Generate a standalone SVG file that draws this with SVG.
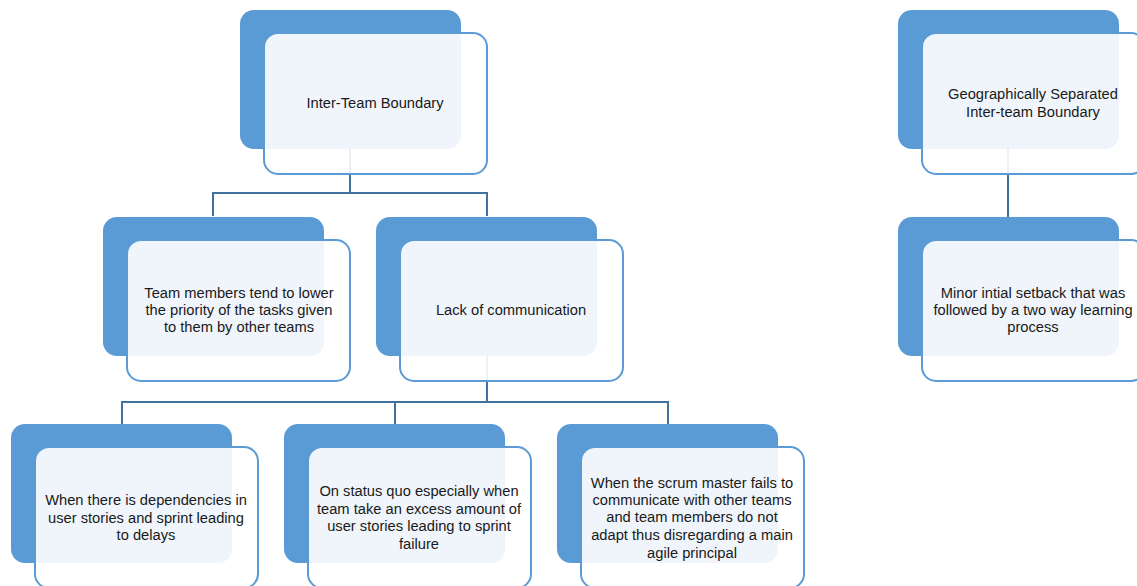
<svg xmlns="http://www.w3.org/2000/svg" width="1137" height="586" viewBox="0 0 1137 586">
<style>
.back{fill:#5B9BD5;}
.front{fill:#FFFFFF;fill-opacity:0.9;stroke:#5B9BD5;stroke-width:2;}
.conn{fill:none;stroke:#41719C;stroke-width:2;}
text{font-family:"Liberation Sans",Arial,sans-serif;font-size:14.7px;fill:#1a1a1a;text-anchor:middle;}
</style>
<rect width="1137" height="586" fill="#FFFFFF"/>
<g id="connectors">
<path class="conn" d="M350 149 V193 M213 216 V193 H487 V216"/>
<path class="conn" d="M487 356 V402 M122 424 V402 H668 V424 M395 402 V424"/>
<path class="conn" d="M1008 149 V217"/>
</g>
<g id="n-inter-team">
<rect class="back" x="240" y="10" width="221" height="139" rx="14"/>
<rect class="front" x="264" y="33" width="223" height="141" rx="14"/>
<text x="375" y="108">Inter-Team Boundary</text>
</g>
<g id="n-geo">
<rect class="back" x="898" y="10" width="221" height="139" rx="14"/>
<rect class="front" x="922" y="33" width="223" height="141" rx="14"/>
<text x="1033" y="99">Geographically Separated</text>
<text x="1033" y="117">Inter-team Boundary</text>
</g>
<g id="n-priority">
<rect class="back" x="103" y="217" width="221" height="139" rx="14"/>
<rect class="front" x="127" y="240" width="223" height="141" rx="14"/>
<text x="239" y="298">Team members tend to lower</text>
<text x="239" y="315">the priority of the tasks given</text>
<text x="239" y="332">to them by other teams</text>
</g>
<g id="n-lack">
<rect class="back" x="376" y="217" width="221" height="139" rx="14"/>
<rect class="front" x="400" y="240" width="223" height="141" rx="14"/>
<text x="511" y="315">Lack of communication</text>
</g>
<g id="n-minor">
<rect class="back" x="898" y="217" width="221" height="139" rx="14"/>
<rect class="front" x="922" y="240" width="223" height="141" rx="14"/>
<text x="1033" y="298">Minor intial setback that was</text>
<text x="1033" y="315">followed by a two way learning</text>
<text x="1033" y="332">process</text>
</g>
<g id="n-dependencies">
<rect class="back" x="11" y="424" width="221" height="139" rx="14"/>
<rect class="front" x="35" y="447" width="223" height="141" rx="14"/>
<text x="146" y="505">When there is dependencies in</text>
<text x="146" y="523">user stories and sprint leading</text>
<text x="146" y="540">to delays</text>
</g>
<g id="n-status-quo">
<rect class="back" x="284" y="424" width="221" height="139" rx="14"/>
<rect class="front" x="308" y="447" width="223" height="141" rx="14"/>
<text x="419" y="496">On status quo especially when</text>
<text x="419" y="514">team take an excess amount of</text>
<text x="419" y="531">user stories leading to sprint</text>
<text x="419" y="549">failure</text>
</g>
<g id="n-scrum-master">
<rect class="back" x="557" y="424" width="221" height="139" rx="14"/>
<rect class="front" x="581" y="447" width="223" height="141" rx="14"/>
<text x="692" y="488">When the scrum master fails to</text>
<text x="692" y="505">communicate with other teams</text>
<text x="692" y="522">and team members do not</text>
<text x="692" y="540">adapt thus disregarding a main</text>
<text x="692" y="558">agile principal</text>
</g>
</svg>
